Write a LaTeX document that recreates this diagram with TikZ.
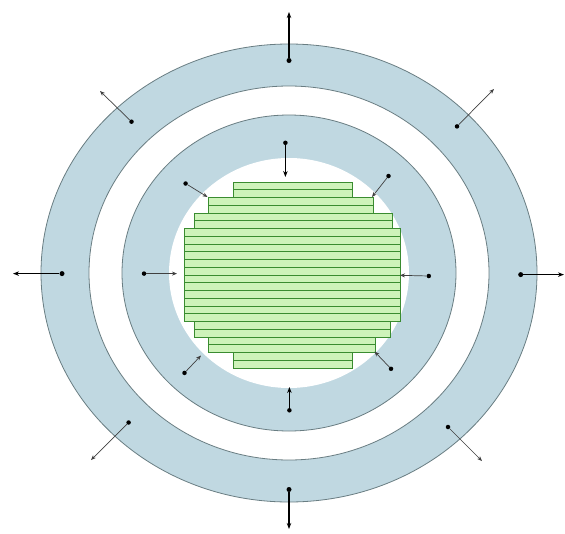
\documentclass[tikz,border=0pt]{standalone}
\usetikzlibrary{arrows.meta}
\definecolor{ringblue}{RGB}{192,216,225}
\definecolor{ringline}{RGB}{105,125,130}
\definecolor{corefill}{RGB}{206,243,186}
\definecolor{coreline}{RGB}{58,140,48}
\tikzset{
  band/.style={fill=ringblue, draw=ringline, line width=0.8pt},
  gap/.style={fill=white, draw=ringline, line width=0.8pt},
  corebar/.style={fill=corefill, draw=coreline, line width=0.9pt},
  heavyflow/.style={-{Stealth[length=6pt,width=4.5pt]}, line width=1.5pt},
  lightflow/.style={-{Stealth[length=5pt,width=4pt]}, line width=0.7pt, draw=black!75},
  pin/.style={circle, fill=black, inner sep=0pt, minimum size=5pt}
}

\begin{document}
\begin{tikzpicture}[x=1pt, y=-1pt]
  \useasboundingbox (0,0) rectangle (565,533);
  \coordinate (mid) at (289,273);

  % rings
  \draw[band] (mid) ellipse [x radius=248, y radius=229];
  \draw[gap]  (mid) ellipse [x radius=200, y radius=187];
  \draw[band] (mid) ellipse [x radius=167, y radius=158];
  \fill[white] (mid) ellipse [x radius=120, y radius=115];

  % core of stacked bars
  \foreach \i/\xl/\xr in {0/233/352, 1/233/352, 2/208/373, 3/208/373,
      4/194/392, 5/194/392, 6/184/400, 7/184/400, 8/184/400, 9/184/400,
      10/184/400, 11/184/400, 12/184/400, 13/184/400, 14/184/400,
      15/184/400, 16/184/400, 17/184/400, 18/194/390, 19/194/390,
      20/208/375, 21/208/375, 22/233/352, 23/233/352}
    \draw[corebar] (\xl,182+7.75*\i) rectangle (\xr,182+7.75*\i+7.75);

  % outward flows from the outer ring
  \foreach \name/\px/\py/\tx/\ty in {on/289/60.5/289/12, os/289/489.5/289/529,
      ow/62/273.6/13/273.6, oe/520.7/274.6/564/274.6}
  {
    \node[pin] (\name) at (\px,\py) {};
    \coordinate (\name-tip) at (\tx,\ty);
    \draw[heavyflow] (\name) -- (\name-tip);
  }
  \foreach \name/\px/\py/\tx/\ty in {onw/131.5/121.7/100/91, one/457/126.4/494/89,
      osw/128.6/422.5/91/460, ose/448/427/482/461}
  {
    \node[pin, minimum size=4.5pt] (\name) at (\px,\py) {};
    \coordinate (\name-tip) at (\tx,\ty);
    \draw[lightflow] (\name) -- (\name-tip);
  }

  % inward flows from the inner ring
  \foreach \name/\px/\py/\tx/\ty in {in/285.4/142.8/285.4/177, is/289.4/410.3/289.4/387}
  {
    \node[pin, minimum size=4.5pt] (\name) at (\px,\py) {};
    \coordinate (\name-tip) at (\tx,\ty);
    \draw[heavyflow, line width=1.2pt] (\name) -- (\name-tip);
  }
  \foreach \name/\px/\py/\tx/\ty in {iw/144/273.6/177/273.6, ie/428.8/276/400/275.3,
      inw/185.6/183.5/207.5/197, ine/388.5/176/372/197,
      isw/184.5/372.9/201/355.5, ise/391/368.8/374.5/351.5}
  {
    \node[pin, minimum size=4.5pt] (\name) at (\px,\py) {};
    \coordinate (\name-tip) at (\tx,\ty);
    \draw[lightflow] (\name) -- (\name-tip);
  }
\end{tikzpicture}
\end{document}
